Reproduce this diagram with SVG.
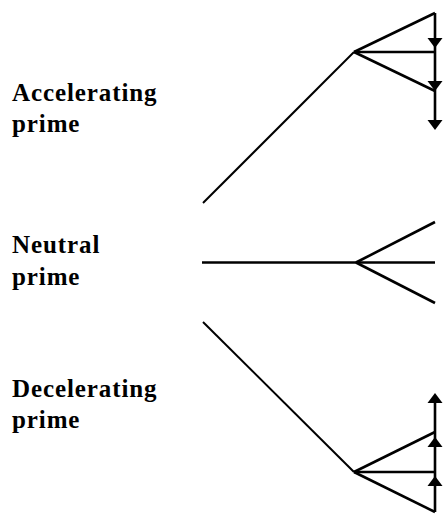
<svg xmlns="http://www.w3.org/2000/svg" width="446" height="515" viewBox="0 0 446 515">
  <style>
    .lbl { font-family: "Liberation Serif", "Times New Roman", serif; font-weight: bold; font-size: 25px; letter-spacing: 0.9px; fill: #000; }
    .main { stroke: #000; stroke-width: 2; fill: none; stroke-linecap: butt; }
    .arm { stroke: #000; stroke-width: 2.6; fill: none; stroke-linecap: butt; }
    .head { fill: #000; stroke: none; }
  </style>
  <defs>
    <path id="down" d="M-7.5,-10 L7.5,-10 L0,0 Z"/>
    <path id="up" d="M-7.5,10 L7.5,10 L0,0 Z"/>
  </defs>

  <g id="label-accelerating">
    <text class="lbl" x="12" y="101">Accelerating</text>
    <text class="lbl" x="12" y="132">prime</text>
  </g>
  <g id="label-neutral">
    <text class="lbl" x="12" y="253">Neutral</text>
    <text class="lbl" x="12" y="285">prime</text>
  </g>
  <g id="label-decelerating">
    <text class="lbl" x="12" y="397">Decelerating</text>
    <text class="lbl" x="12" y="428">prime</text>
  </g>

  <g id="connectors">
    <line class="main" x1="203" y1="203" x2="354" y2="52"/>
    <line class="arm" x1="202" y1="262.5" x2="356" y2="262.5"/>
    <line class="main" x1="203" y1="322" x2="354" y2="472"/>
  </g>

  <g id="accelerating-fan">
    <line class="arm" x1="354" y1="52" x2="435" y2="13"/>
    <line class="arm" x1="354" y1="52" x2="435" y2="52"/>
    <line class="arm" x1="354" y1="52" x2="435" y2="91"/>
    <line class="arm" x1="435" y1="13" x2="435" y2="126"/>
    <use href="#down" class="head" x="435" y="48"/>
    <use href="#down" class="head" x="435" y="91"/>
    <use href="#down" class="head" x="435" y="130"/>
  </g>

  <g id="neutral-fan">
    <line class="arm" x1="356" y1="262.5" x2="435" y2="222"/>
    <line class="arm" x1="356" y1="262.5" x2="435" y2="262.5"/>
    <line class="arm" x1="356" y1="262.5" x2="435" y2="303"/>
  </g>

  <g id="decelerating-fan">
    <line class="arm" x1="354" y1="472" x2="435" y2="432"/>
    <line class="arm" x1="354" y1="472" x2="435" y2="472"/>
    <line class="arm" x1="354" y1="472" x2="435" y2="512"/>
    <line class="arm" x1="435" y1="512" x2="435" y2="397"/>
    <use href="#up" class="head" x="435" y="393"/>
    <use href="#up" class="head" x="435" y="437"/>
    <use href="#up" class="head" x="435" y="476"/>
  </g>
</svg>
